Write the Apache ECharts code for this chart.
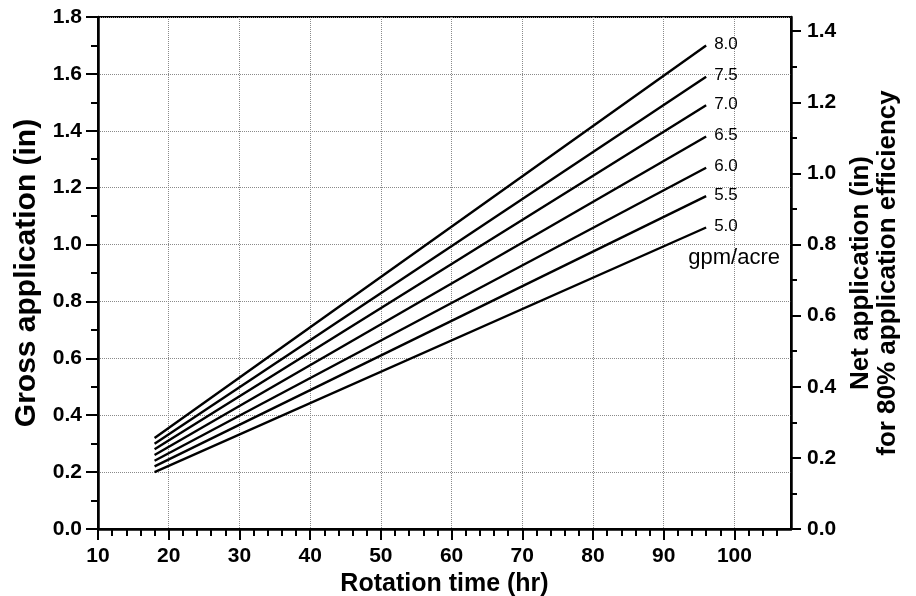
<!DOCTYPE html>
<html>
<head>
<meta charset="utf-8">
<script src="https://cdn.jsdelivr.net/npm/echarts@6/dist/echarts.min.js"></script>
<style>
  html, body { margin: 0; padding: 0; background: #fff; }
  #chart { width: 916px; height: 596px; }
</style>
</head>
<body>
<div id="chart"></div>
<script>
// Application rates (gpm/acre), one straight line each
const rates = ['8.0', '7.5', '7.0', '6.5', '6.0', '5.5', '5.0'];
// Rotation time span covered by every line (hr)
const rotationStart = 18;
const rotationEnd = 96;
// Gross application (in) at the start and end of the span
const grossAtStart = [0.32, 0.30, 0.28, 0.26, 0.24, 0.22, 0.20];
const grossAtEnd = [1.70, 1.59, 1.49, 1.38, 1.27, 1.17, 1.06];
// Tick values
const xTicks = [10, 20, 30, 40, 50, 60, 70, 80, 90, 100];
const netTicks = [0, 0.2, 0.4, 0.6, 0.8, 1.0, 1.2, 1.4];
const unitLabel = 'gpm/acre';

const FONT = "'Liberation Sans', Arial, Helvetica, sans-serif";
const GROSS_MAX = 1.8;
const EFFICIENCY = 0.8;

const series = rates.map((r, i) => {
  const s = {
    name: r,
    type: 'line',
    data: [[rotationStart, grossAtStart[i]], [rotationEnd, grossAtEnd[i]]],
    symbol: 'none',
    silent: true,
    lineStyle: { color: '#000', width: 2.4 },
    endLabel: {
      show: true,
      formatter: '{a}',
      color: '#000',
      fontFamily: FONT,
      fontSize: 17,
      distance: 8,
      offset: [0, -1]
    }
  };
  if (i === rates.length - 1) {
    // unit caption under the lowest rate label
    s.markPoint = {
      symbol: 'circle',
      symbolSize: 0,
      silent: true,
      label: {
        show: true,
        formatter: unitLabel,
        color: '#000',
        fontFamily: FONT,
        fontSize: 22,
        offset: [28, 30]
      },
      data: [{ coord: [rotationEnd, grossAtEnd[i]] }]
    };
  }
  return s;
});

const axisLine = { show: true, lineStyle: { color: '#000', width: 2.5 } };
const gridLine = { show: true, lineStyle: { color: '#8a8a8a', width: 1, type: [1, 1] } };
const tickLabel = { color: '#000', fontFamily: FONT, fontWeight: 'bold', fontSize: 21 };
const titleFont = { color: '#000', fontFamily: FONT, fontWeight: 'bold' };

const chart = echarts.init(document.getElementById('chart'), null, { renderer: 'canvas' });
chart.setOption({
  animation: false,
  backgroundColor: '#fff',
  grid: {
    left: 98, right: 125, top: 17, bottom: 67,
    outerBoundsMode: 'none',
    containLabel: false,
    show: true, borderColor: '#000', borderWidth: 2, backgroundColor: 'transparent'
  },
  xAxis: {
    type: 'value',
    min: 10, max: 108, interval: 10,
    name: 'Rotation time (hr)',
    nameLocation: 'middle',
    nameGap: 41,
    nameTextStyle: Object.assign({ fontSize: 25 }, titleFont),
    axisLine: axisLine,
    axisTick: { show: true, length: 11, lineStyle: { color: '#000', width: 2 }, customValues: xTicks },
    minorTick: { show: true, splitNumber: 5, length: 7, lineStyle: { color: '#000', width: 2 } },
    axisLabel: Object.assign({ margin: 17, customValues: xTicks }, tickLabel),
    splitLine: gridLine
  },
  yAxis: [
    {
      type: 'value',
      min: 0, max: GROSS_MAX, interval: 0.2,
      name: 'Gross application (in)',
      nameLocation: 'middle',
      nameRotate: 90,
      nameGap: 53,
      nameTextStyle: Object.assign({ fontSize: 30 }, titleFont),
      axisLine: axisLine,
      axisTick: { show: true, length: 12, lineStyle: { color: '#000', width: 2 } },
      minorTick: { show: true, splitNumber: 2, length: 7, lineStyle: { color: '#000', width: 2 } },
      axisLabel: Object.assign({ margin: 16, formatter: v => v.toFixed(1) }, tickLabel),
      splitLine: gridLine
    },
    {
      type: 'value',
      position: 'right',
      min: 0, max: GROSS_MAX * EFFICIENCY, interval: 0.2,
      name: 'Net application (in)\nfor 80% application efficiency',
      nameLocation: 'middle',
      nameRotate: 90,
      nameGap: 52,
      nameTextStyle: Object.assign({ fontSize: 26, lineHeight: 27 }, titleFont),
      axisLine: axisLine,
      axisTick: { show: true, length: 10, lineStyle: { color: '#000', width: 2 }, customValues: netTicks },
      minorTick: { show: true, splitNumber: 2, length: 6, lineStyle: { color: '#000', width: 2 } },
      axisLabel: Object.assign({ margin: 16, customValues: netTicks, formatter: v => v.toFixed(1) }, tickLabel),
      splitLine: { show: false }
    }
  ],
  series: series
});
</script>
</body>
</html>
